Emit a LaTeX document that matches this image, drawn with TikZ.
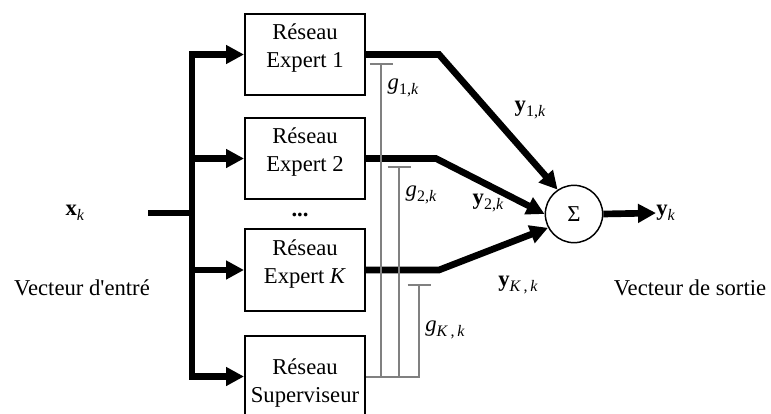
\documentclass[tikz,border=0pt]{standalone}
\usepackage{fontspec}
\setmainfont{Liberation Serif}
\usetikzlibrary{arrows.meta}

\newcommand{\lsub}[1]{\raisebox{-0.45ex}{\fontsize{12}{12}\selectfont #1}}
\newcommand{\padlow}{\rule[-12.7pt]{0pt}{1pt}}
\newcommand{\padhigh}{\rule{0pt}{21.5pt}}

\begin{document}
\begin{tikzpicture}[
            x=0.75pt, y=-0.75pt,
            every node/.style={font=\fontsize{17}{21}\selectfont},
            reseau/.style={draw, line width=1.5pt, minimum width=90pt, minimum height=61pt, align=center, inner sep=0pt},
            sumnode/.style={draw, circle, line width=1.1pt, minimum size=43pt, inner sep=0pt, font=\fontsize{17}{17}\selectfont},
            bus/.style={line width=5pt},
            flow/.style={line width=5pt, -{Triangle[length=13.5pt,width=13.5pt]}},
            gate/.style={line width=1.5pt, draw=gray}
        ]
        \useasboundingbox (0,0) rectangle (771,414);

        % Networks
        \node[reseau] (e1) at (305,54.5) {Réseau\\Expert 1\padlow};
        \node[reseau] (e2) at (305,158.5) {Réseau\\Expert 2\padlow};
        \node (dots) at (300,215) {\textbf{...}};
        \node[reseau] (eK) at (305,270) {Réseau\\Expert \textit{K}\padlow};
        \node[reseau] (sup) at (305,376.5) {\padhigh Réseau\\Superviseur};
        \node[sumnode] (sum) at (574,214) {Σ};

        % Input side
        \node (xk) at (75,213) {\textbf{x}\lsub{\textit{k}}};
        \node (entree) at (82,288) {Vecteur d\textquotesingle entré};
        \coordinate (in) at (148,213);
        \coordinate (bus) at (192,213);
        \draw[bus] (in) -- (bus);
        \foreach \b in {e1,e2,eK,sup}
            \draw[flow] (bus) |- (\b.west);

        % Expert outputs
        \draw[flow] (e1.east) -- ++(73,0) -- (sum.124);
        \draw[flow] (e2.east) -- ++(70,0) -- (sum.west);
        \draw[flow] (eK.east) -- ++(73,0) -- (sum.208);
        \node (y1) at (530,110) {\textbf{y}\lsub{1,\textit{k}}};
        \node (y2) at (488,203) {\textbf{y}\lsub{2,\textit{k}}};
        \node (yKk) at (518,285) {\textbf{y}\lsub{\textit{K}\,,\,\textit{k}}};

        % Output side
        \node[anchor=west, inner sep=0pt] (yk) at (656,213) {\textbf{y}\lsub{\textit{k}}};
        \draw[flow] (sum.east) -- (yk.west);
        \node (sortie) at (690,288) {Vecteur de sortie};

        % Gates
        \coordinate (t1) at (381,64);
        \coordinate (t2) at (399,167);
        \coordinate (tK) at (419,285);
        \foreach \t in {t1,t2,tK}{
            \draw[gate] (sup.east) -| (\t);
            \draw[gate] (\t) ++(-11.5,0) -- ++(23,0);
        }
        \node (g1) at (403,88) {\textit{g}\lsub{1,\textit{k}}};
        \node (g2) at (421,195) {\textit{g}\lsub{2,\textit{k}}};
        \node (gK) at (445,330) {\textit{g}\lsub{\textit{K}\,,\,\textit{k}}};

        \end{tikzpicture}
\end{document}
